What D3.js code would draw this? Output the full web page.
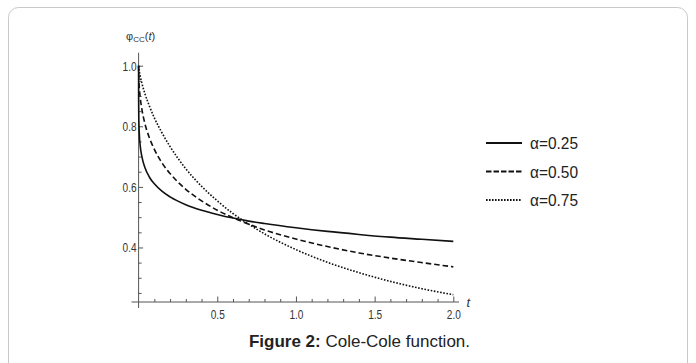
<!DOCTYPE html>
<html><head><meta charset="utf-8">
<script src="https://cdn.jsdelivr.net/npm/d3@7"></script>
<style>body{margin:0;background:#fff}</style>
</head><body><svg id="c" width="696" height="363"></svg>
<script>
const tValues=[0,0.0001,0.001,0.005,0.01,0.02,0.04,0.07,0.1,0.15,0.2,0.3,0.4,0.5,0.6,0.7,0.8,1.0,1.2,1.4,1.6,1.8,2.0];
const alpha025=[1,0.900,0.834,0.770,0.737,0.702,0.664,0.631,0.610,0.585,0.567,0.541,0.523,0.509,0.497,0.487,0.479,0.465,0.453,0.443,0.434,0.427,0.420];
const alpha050=[1,0.989,0.965,0.925,0.896,0.859,0.809,0.760,0.724,0.678,0.644,0.592,0.554,0.523,0.498,0.477,0.458,0.428,0.403,0.382,0.365,0.350,0.336];
const alpha075=[1,0.999,0.994,0.980,0.966,0.944,0.908,0.865,0.828,0.777,0.733,0.660,0.602,0.554,0.512,0.477,0.445,0.393,0.351,0.317,0.288,0.264,0.244];
const seriesNames=["α=0.25","α=0.50","α=0.75"];
const xMajorTicks=[0.5,1.0,1.5,2.0];
const xMinorTicks=[0.1,0.2,0.3,0.4,0.6,0.7,0.8,0.9,1.1,1.2,1.3,1.4,1.6,1.7,1.8,1.9];
const yMajorTicks=[0.4,0.6,0.8,1.0];
const yMinorTicks=[0.25,0.3,0.35,0.45,0.5,0.55,0.65,0.7,0.75,0.85,0.9,0.95];
const captionBold="Figure 2:";
const captionText=" Cole-Cole function.";

const svg=d3.select("#c");
// frame
svg.append("rect").attr("x",8.5).attr("y",7.5).attr("width",679).attr("height",370)
  .attr("rx",10).attr("fill","none").attr("stroke","#c8c8c8").attr("stroke-width",1);

const x=d3.scaleLinear([0,2],[138.6,453.3]);
const y=d3.scaleLinear([0.22,1.0],[302,65.7]);
const axisColor="#555";
const font="'Liberation Sans', Arial, sans-serif";

// axes lines
svg.append("line").attr("x1",131.5).attr("x2",459).attr("y1",y(0.22)).attr("y2",y(0.22)).attr("stroke",axisColor);
svg.append("line").attr("x1",x(0)).attr("x2",x(0)).attr("y1",52.7).attr("y2",308).attr("stroke",axisColor);

function styleAxis(g){g.select(".domain").remove();g.selectAll("line").attr("stroke",axisColor);}
const gx=svg.append("g").attr("transform",`translate(0,${y(0.22)})`);
gx.append("g").call(d3.axisBottom(x).tickValues(xMinorTicks).tickSize(-3).tickFormat("")).call(styleAxis);
const gxm=gx.append("g").call(d3.axisBottom(x).tickValues(xMajorTicks).tickSize(-5.5).tickPadding(8.5).tickFormat(d3.format(".1f"))).call(styleAxis);
gxm.selectAll("text").attr("font-family",font).attr("font-size",12).attr("fill","#333")
  .attr("textLength",14).attr("lengthAdjust","spacingAndGlyphs");

const gy=svg.append("g").attr("transform",`translate(${x(0)},0)`);
gy.append("g").call(d3.axisLeft(y).tickValues(yMinorTicks).tickSize(-3).tickFormat("")).call(styleAxis);
const gym=gy.append("g").call(d3.axisLeft(y).tickValues(yMajorTicks).tickSize(-4.5).tickPadding(2).tickFormat(d3.format(".1f"))).call(styleAxis);
gym.selectAll("text").attr("font-family",font).attr("font-size",13.5).attr("fill","#333")
  .attr("textLength",14).attr("lengthAdjust","spacingAndGlyphs");

// axis labels
const yl=svg.append("text").attr("x",126).attr("y",40).attr("font-family",font).attr("font-size",11).attr("fill","#333");
yl.append("tspan").text("φ");
yl.append("tspan").attr("font-size",8).attr("dy",1.5).text("CC");
yl.append("tspan").attr("dy",-1.5).text("(");
yl.append("tspan").attr("font-style","italic").text("t");
yl.append("tspan").text(")");
svg.append("text").attr("x",466.5).attr("y",307).attr("font-family",font).attr("font-size",13)
  .attr("font-style","italic").attr("fill","#333").text("t");

// curves
const styles=[{dash:null,w:1.6},{dash:"5.5,3",w:1.6},{dash:"1.6,1.6",w:1.6}];
const series=[alpha025,alpha050,alpha075];
const line=d3.line().x((d,i)=>x(tValues[i])).y(d=>y(d)).curve(d3.curveMonotoneX);
series.forEach((s,k)=>{
  svg.append("path").attr("d",line(s)).attr("fill","none").attr("stroke","#111")
    .attr("stroke-width",styles[k].w).attr("stroke-dasharray",styles[k].dash);
});

// legend
const legStyles=[{dash:null},{dash:"5.5,2"},{dash:"1.6,1.4"}];
const legY=[143,171.5,200];
seriesNames.forEach((n,k)=>{
  svg.append("line").attr("x1",486).attr("x2",522).attr("y1",legY[k]).attr("y2",legY[k])
    .attr("stroke","#111").attr("stroke-width",2).attr("stroke-dasharray",legStyles[k].dash);
  svg.append("text").attr("x",530).attr("y",legY[k]+6).attr("font-family",font).attr("font-size",17)
    .attr("fill","#222").attr("textLength",48).attr("lengthAdjust","spacingAndGlyphs").text(n);
});

// caption
const cap=svg.append("text").attr("x",359.5).attr("y",347).attr("text-anchor","middle")
  .attr("font-family",font).attr("font-size",17).attr("fill","#222");
cap.append("tspan").attr("font-weight","bold").text(captionBold);
cap.append("tspan").text(captionText);
</script></body></html>
